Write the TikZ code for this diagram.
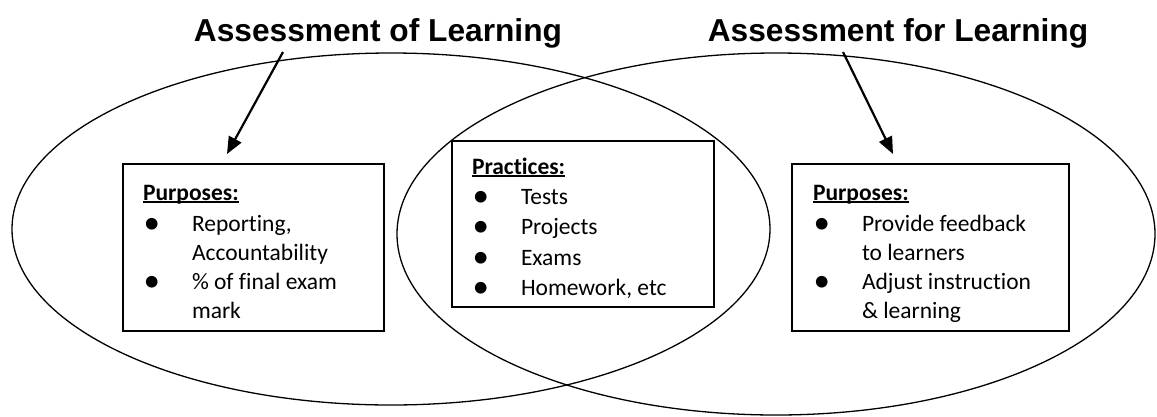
\documentclass[tikz,border=0pt]{standalone}
\usepackage{fontspec}
\setmainfont{Carlito}[Ligatures=NoCommon]
\newfontfamily\titlefont{Liberation Sans}
\usetikzlibrary{arrows.meta}
\newcommand\uln[1]{\leavevmode\setbox0\hbox{#1}\rlap{\rule[-2.8pt]{\wd0}{1.5pt}}\box0}
\newcommand\bigbullet{\raisebox{-2.2pt}{\fontsize{33}{33}\selectfont\textbullet}}
\newcommand\bxitem[1]{\par\hangindent=49pt\hangafter=1\noindent\makebox[49pt][l]{\hspace{0.5pt}\bigbullet}#1}
\tikzset{
  venn/.style={line width=1.3pt},
  box/.style={draw, line width=1.6pt, anchor=north west, inner xsep=20pt, inner ysep=0pt, outer sep=0pt},
  arr/.style={line width=2.2pt, -{Triangle[length=17pt,width=14pt]}},
  ttl/.style={font=\titlefont\bfseries\fontsize{31.7}{36}\selectfont, anchor=base, inner sep=0pt},
}
\begin{document}
\begin{tikzpicture}[x=1pt,y=-1pt]
\useasboundingbox (0,0) rectangle (1157,416);
% ellipses
\draw[venn] (391,229) ellipse [x radius=379pt, y radius=176pt];
\draw[venn] (776,234) ellipse [x radius=379pt, y radius=181pt];
% titles
\node[ttl] (t1) at (378,41) {Assessment of Learning};
\node[ttl] (t2) at (898,41) {Assessment for Learning};
% boxes
\node[box, fill=white] (L) at (123,164) {\parbox[c][167pt][t]{221pt}{\parindent=0pt\parskip=0pt\fontsize{23.5}{29}\selectfont
\rule{0pt}{36pt}\uln{\textbf{Purposes:}}\par\vspace{2pt}
\bxitem{Reporting,\newline Accountability}
\bxitem{\% of final exam\newline mark}}};
\node[box, fill=white] (M) at (452,141) {\parbox[c][166pt][t]{222pt}{\parindent=0pt\parskip=0pt\fontsize{23.5}{30.5}\selectfont
\rule{0pt}{33pt}\uln{\textbf{Practices:}}\par\vspace{-0.5pt}
\bxitem{Tests}
\bxitem{Projects}
\bxitem{Exams}
\bxitem{Homework, etc}}};
\node[box, fill=white, inner xsep=21pt] (R) at (792,164) {\parbox[c][167pt][t]{235pt}{\parindent=0pt\parskip=0pt\fontsize{23.5}{29}\selectfont
\rule{0pt}{36pt}\uln{\textbf{Purposes:}}\par\vspace{2pt}
\bxitem{Provide feedback\newline to learners}
\bxitem{Adjust instruction\newline \& learning}}};
% arrows
\coordinate (a1) at (283,52);
\coordinate (a2) at (843,52);
\draw[arr] (a1) -- ([shift={(-26.5,-10)}]L.north);
\draw[arr] (a2) -- ([shift={(-37.5,-10)}]R.north);
\end{tikzpicture}
\end{document}
